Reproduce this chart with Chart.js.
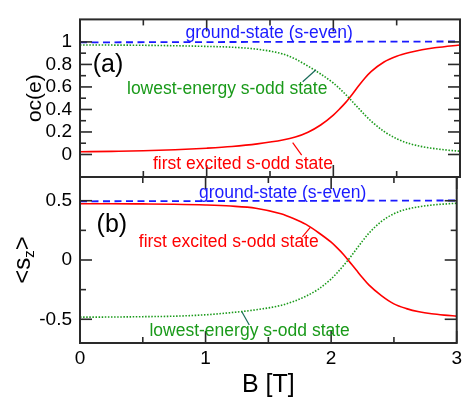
<!DOCTYPE html>
<html><head><meta charset="utf-8">
<script src="https://cdn.jsdelivr.net/npm/chart.js@4.4.1/dist/chart.umd.min.js"></script>
<style>
html,body{margin:0;padding:0;background:#fff}
#wrap{position:relative;width:466px;height:401px;background:#fff}
canvas{position:absolute;left:0;top:0}
</style>
</head><body>
<div id="wrap"><canvas id="cA" width="466" height="401"></canvas><canvas id="cB" width="466" height="401"></canvas></div>
<script>
// ---- data ----
const fieldB = [0, 0.25, 0.5, 0.75, 1.0, 1.2, 1.4, 1.6, 1.7, 1.8, 1.9, 2.0, 2.05, 2.1, 2.15, 2.2, 2.25, 2.3, 2.4, 2.5, 2.6, 2.7, 2.8, 2.9, 3.0];
// panel (a): occupation oc(e)
const ocFirstExcited = [0.024, 0.028, 0.033, 0.042, 0.056, 0.071, 0.094, 0.128, 0.155, 0.198, 0.262, 0.35, 0.405, 0.465, 0.535, 0.61, 0.68, 0.738, 0.822, 0.873, 0.906, 0.93, 0.948, 0.961, 0.972];
const ocLowestOdd    = [0.973, 0.972, 0.970, 0.966, 0.960, 0.953, 0.935, 0.893, 0.848, 0.785, 0.715, 0.635, 0.585, 0.53, 0.47, 0.41, 0.35, 0.295, 0.205, 0.14, 0.097, 0.07, 0.052, 0.039, 0.029];
const groundFieldB = [0, 3];
const ocGround = [0.996, 1.004];
// panel (b): <s_z>
const szFirstExcited = [0.475, 0.475, 0.473, 0.47, 0.464, 0.455, 0.437, 0.39, 0.35, 0.30, 0.23, 0.15, 0.1, 0.045, -0.02, -0.085, -0.15, -0.21, -0.30, -0.37, -0.41, -0.437, -0.454, -0.465, -0.473];
const szLowestOdd    = [-0.482, -0.481, -0.478, -0.474, -0.462, -0.444, -0.42, -0.383, -0.35, -0.305, -0.245, -0.16, -0.105, -0.045, 0.02, 0.09, 0.16, 0.225, 0.325, 0.39, 0.428, 0.449, 0.463, 0.472, 0.479];
const szGround = [0.495, 0.502];
// ticks
const xTicks = [0, 1, 2, 3];
const xTickLabels = ['0', '1', '2', '3'];
const xMinorTicks = [0.5, 1.5, 2.5];
const yTicksA = [0, 0.2, 0.4, 0.6, 0.8, 1];
const yTickLabelsA = ['0', '0.2', '0.4', '0.6', '0.8', '1'];
const yMinorTicksA = [0.1, 0.3, 0.5, 0.7, 0.9];
const yTicksB = [-0.5, 0, 0.5];
const yTickLabelsB = ['-0.5', '0', '0.5'];
const yMinorTicksB = [-0.25, 0.25];

// ---- styles ----
const FAM = "'Liberation Sans', Arial, Helvetica, sans-serif";
const RED = '#ff0000', GREEN = '#1a9a1a', BLUE = '#1a1aff', LEAD_G = '#1a6b5a';
const pts = (xs, ys) => xs.map((x, i) => ({x, y: ys[i]}));

const framePlugin = {
  id: 'frame',
  afterDatasetsDraw(chart, args, o) {
    const {ctx, chartArea: a} = chart;
    const x = chart.scales.x, y = chart.scales.y;
    ctx.save();
    ctx.strokeStyle = '#2a2a2a';
    ctx.lineWidth = 1.6;
    const seg = (x1, y1, x2, y2) => { ctx.beginPath(); ctx.moveTo(x1, y1); ctx.lineTo(x2, y2); ctx.stroke(); };
    const xt = (vals, L) => vals.forEach(v => { const p = x.getPixelForValue(v); seg(p, a.top, p, a.top + L); seg(p, a.bottom, p, a.bottom - L); });
    const yt = (vals, L) => vals.forEach(v => { const p = y.getPixelForValue(v); seg(a.left, p, a.left + L, p); seg(a.right, p, a.right - L, p); });
    xt(o.xMajor, 12); xt(o.xMinor, 6); yt(o.yMajor, 12); yt(o.yMinor, 6);
    ctx.lineWidth = 2;
    ctx.strokeRect(a.left, a.top, a.right - a.left, a.bottom - a.top);
    ctx.restore();
  }
};

const notesPlugin = {
  id: 'notes',
  afterDatasetsDraw(chart, args, o) {
    const {ctx} = chart;
    const x = chart.scales.x, y = chart.scales.y;
    ctx.save();
    ctx.lineWidth = 1.2;
    (o.leaders || []).forEach(l => {
      ctx.strokeStyle = l.color;
      ctx.beginPath();
      ctx.moveTo(x.getPixelForValue(l.x1), y.getPixelForValue(l.y1));
      ctx.lineTo(x.getPixelForValue(l.x2), y.getPixelForValue(l.y2));
      ctx.stroke();
    });
    ctx.textAlign = 'left';
    ctx.textBaseline = 'alphabetic';
    (o.texts || []).forEach(t => {
      ctx.font = t.font;
      ctx.fillStyle = t.color;
      ctx.fillText(t.text, x.getPixelForValue(t.x), y.getPixelForValue(t.y));
    });
    if (o.szTitle) {
      const cy = (y.top + y.bottom) / 2, cx = 23;
      ctx.translate(cx, cy);
      ctx.rotate(-Math.PI / 2);
      ctx.fillStyle = '#000';
      ctx.textBaseline = 'middle';
      const big = '24px ' + FAM, small = '15px ' + FAM;
      ctx.font = big; const w1 = ctx.measureText('<s').width, w3 = ctx.measureText('>').width;
      ctx.font = small; const w2 = ctx.measureText('z').width;
      let sx = -(w1 + w2 + w3) / 2;
      ctx.font = big; ctx.fillText('<s', sx, 0); sx += w1;
      ctx.font = small; ctx.fillText('z', sx, 7); sx += w2;
      ctx.font = big; ctx.fillText('>', sx, 0);
    }
    ctx.restore();
  }
};

function lineDs(data, color, width, dash) {
  return {data, borderColor: color, borderWidth: width, borderDash: dash, pointRadius: 0, fill: false,
          cubicInterpolationMode: 'monotone', showLine: true};
}

function yScale(min, max, ticks, labels, title) {
  return {
    type: 'linear', position: 'left', min, max,
    afterFit: s => { s.width = 80; },
    afterBuildTicks: s => { s.ticks = ticks.map(v => ({value: v})); },
    ticks: {callback: (v, i) => labels[i], font: {family: FAM, size: 19}, color: '#000', padding: 8},
    grid: {display: false, drawTicks: false},
    border: {display: false},
    title: title
  };
}

const common = {
  responsive: false, animation: false, devicePixelRatio: 1,
  plugins: {legend: {display: false}, tooltip: {enabled: false}}
};

// ---- panel (a) ----
new Chart(document.getElementById('cA'), {
  type: 'line',
  data: {datasets: [
    lineDs(pts(groundFieldB, ocGround), BLUE, 1.8, [7, 4.5]),
    lineDs(pts(fieldB, ocLowestOdd), GREEN, 1.6, [1.5, 1.6]),
    lineDs(pts(fieldB, ocFirstExcited), RED, 1.6, [])
  ]},
  options: Object.assign({}, common, {
    layout: {padding: {left: 0, right: 6, top: 11, bottom: 224}},
    scales: {
      x: {type: 'linear', min: 0, max: 3, display: false},
      y: yScale(-0.2, 1.2, yTicksA, yTickLabelsA,
        {display: true, text: 'oc(e)', color: '#000', font: {family: FAM, size: 21}, padding: {top: 23, bottom: 0}})
    },
    plugins: Object.assign({}, common.plugins, {
      frame: {xMajor: xTicks, xMinor: xMinorTicks, yMajor: yTicksA, yMinor: yMinorTicksA},
      notes: {
        leaders: [
          {x1: 1.758, y1: 0.646, x2: 1.863, y2: 0.753, color: LEAD_G},
          {x1: 1.75, y1: -0.006, x2: 1.679, y2: 0.106, color: RED}
        ],
        texts: [
          {text: 'ground-state (s-even)', x: 0.833, y: 1.034, color: BLUE, font: '17.5px ' + FAM},
          {text: 'lowest-energy s-odd state', x: 0.371, y: 0.54, color: GREEN, font: '17.5px ' + FAM},
          {text: 'first excited s-odd state', x: 0.576, y: -0.127, color: RED, font: '17.5px ' + FAM},
          {text: '(a)', x: 0.1, y: 0.73, color: '#000', font: '25px ' + FAM}
        ]
      }
    })
  }),
  plugins: [framePlugin, notesPlugin]
});

// ---- panel (b) ----
new Chart(document.getElementById('cB'), {
  type: 'line',
  data: {datasets: [
    lineDs(pts(groundFieldB, szGround), BLUE, 1.8, [7, 4.5]),
    lineDs(pts(fieldB, szLowestOdd), GREEN, 1.6, [1.5, 1.6]),
    lineDs(pts(fieldB, szFirstExcited), RED, 1.6, [])
  ]},
  options: Object.assign({}, common, {
    layout: {padding: {left: 0, right: 6, top: 177, bottom: 0}},
    scales: {
      x: {
        type: 'linear', position: 'bottom', min: 0, max: 3,
        afterFit: s => { s.height = 58; },
        afterBuildTicks: s => { s.ticks = xTicks.map(v => ({value: v})); },
        ticks: {callback: (v, i) => xTickLabels[i], font: {family: FAM, size: 19}, color: '#000', padding: 4, maxRotation: 0, autoSkip: false},
        grid: {display: false, drawTicks: false},
        border: {display: false},
        title: {display: true, text: 'B [T]', color: '#000', font: {family: FAM, size: 25}, padding: {top: 0, bottom: 1}}
      },
      y: yScale(-0.7, 0.7, yTicksB, yTickLabelsB, {display: false})
    },
    plugins: Object.assign({}, common.plugins, {
      frame: {xMajor: xTicks, xMinor: xMinorTicks, yMajor: yTicksB, yMinor: yMinorTicksB},
      notes: {
        szTitle: true,
        leaders: [
          {x1: 1.771, y1: 0.196, x2: 1.834, y2: 0.276, color: RED},
          {x1: 1.348, y1: -0.548, x2: 1.289, y2: -0.436, color: LEAD_G}
        ],
        texts: [
          {text: 'ground-state (s-even)', x: 0.947, y: 0.52, color: BLUE, font: '17.5px ' + FAM},
          {text: 'first excited s-odd state', x: 0.468, y: 0.107, color: RED, font: '17.5px ' + FAM},
          {text: 'lowest-energy s-odd state', x: 0.553, y: -0.638, color: GREEN, font: '17.5px ' + FAM},
          {text: '(b)', x: 0.132, y: 0.239, color: '#000', font: '25px ' + FAM}
        ]
      }
    })
  }),
  plugins: [framePlugin, notesPlugin]
});
</script>
</body></html>
